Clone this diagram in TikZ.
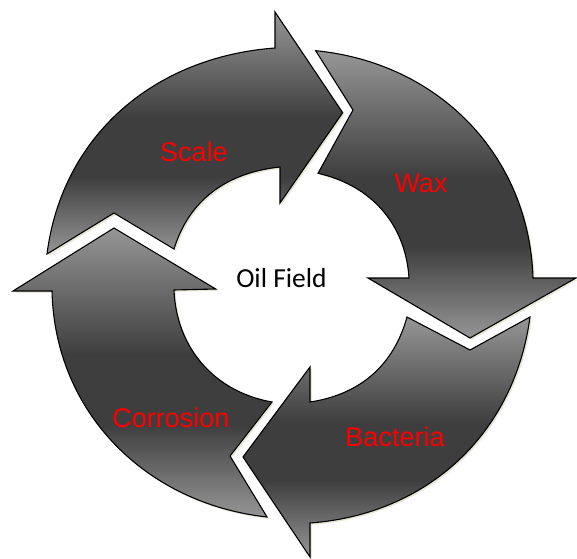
\documentclass[tikz,border=0pt]{standalone}
\usepackage{fontspec}
\setmainfont{Liberation Sans}
\newfontfamily\calibri{Carlito}
\usetikzlibrary{shadows}
\definecolor{arrowlight}{RGB}{150,150,150}
\definecolor{arrowdark}{RGB}{62,62,62}
\definecolor{shadowcream}{RGB}{232,230,216}
\pgfdeclareverticalshading{cycshade}{100bp}{color(0bp)=(arrowlight); color(25bp)=(arrowlight);
  color(41bp)=(arrowdark); color(53bp)=(arrowdark); color(75bp)=(arrowlight); color(100bp)=(arrowlight)}

\begin{document}
\begin{tikzpicture}[x=1pt,y=1pt,
     cyc/.style={draw=black, line width=1.1pt, line join=miter, shading=cycshade,
       general shadow={fill=shadowcream, shadow xshift=1.8pt, shadow yshift=-1.8pt}},
     lbl/.style={text=red, font=\fontsize{27}{30}\selectfont}
   ]
\useasboundingbox (0,0) rectangle (577,558);

% Scale
\draw[cyc] (114,345) -- (174,309) to[out=72.9,in=186] (280,391)
  -- (280,355) -- (342.7,445.3) -- (275,546) -- (275,510)
  to[out=184.2,in=82.7] (47,304) -- cycle;
% Wax
\draw[cyc] (353,448) -- (318,384.7) to[out=-12.8,in=93.7] (409,280)
  -- (368,280) -- (470,220) -- (576,280) -- (533,280)
  to[out=91.8,in=-5.6] (315.7,507.3) -- cycle;
% Bacteria
\draw[cyc] (470,208) -- (407,241) to[out=-105.4,in=8.5] (310,156)
  -- (310,191) -- (243,101) -- (310,1) -- (310,35)
  to[out=4.2,in=262.4] (530,241) -- cycle;
% Corrosion
\draw[cyc] (230,102) -- (272,156) to[out=170,in=272.2] (174,268)
  -- (215.7,269) -- (114,330) -- (13,267) -- (52,267)
  to[out=271.3,in=173.7] (267,41) -- cycle;

\node[lbl] (scale) at (194,406) {Scale};
\node[lbl] (wax) at (421,375) {Wax};
\node[lbl] (bacteria) at (395,121) {Bacteria};
\node[lbl] (corrosion) at (171,140) {Corrosion};
\node (field) at (281.5,279.5) {\calibri\fontsize{27.5}{30}\selectfont Oil Field};
\end{tikzpicture}
\end{document}
